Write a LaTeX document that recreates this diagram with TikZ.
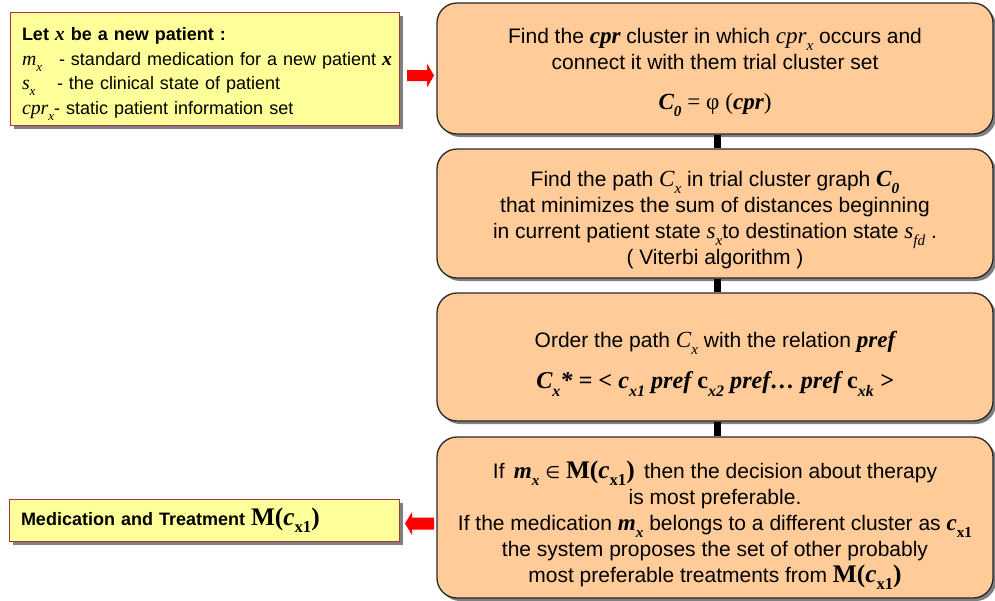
\documentclass[tikz,border=0pt]{standalone}
\usepackage{fontspec}
\setmainfont{Liberation Sans}
\newfontfamily\tms[Scale=1.1]{Liberation Serif}
\newfontfamily\dvs{DejaVu Sans}
\usetikzlibrary{shadows}

\definecolor{peach}{RGB}{255,204,153}
\definecolor{lemon}{RGB}{255,255,153}
\definecolor{boxline}{RGB}{40,40,40}
\definecolor{yline}{RGB}{170,50,70}
\definecolor{shadowgray}{RGB}{128,128,128}
\definecolor{arrowred}{RGB}{255,0,0}

% Times-style variables
\newcommand\ti[1]{{\tms\itshape #1}}
\newcommand\tbi[1]{{\tms\bfseries\itshape #1}}
\newcommand\tb[1]{{\tms\bfseries #1}}
\newcommand\sbx[1]{\raisebox{-0.32em}{\scalebox{0.66}{#1}}}
\newcommand\Mcx{{\fontsize{23}{24}\selectfont\tb{M(}\tbi{c}\sbx{\tb{x1}}\tb{)}}}

\tikzset{
  obox/.style={draw=boxline, line width=1.3pt, fill=peach, rounded corners=20pt,
    minimum width=556pt, inner sep=0pt,
    drop shadow={shadow xshift=3pt, shadow yshift=-3pt, fill=shadowgray, opacity=1}},
  otext/.style={align=center, inner sep=0pt, font=\fontsize{21}{26}\selectfont},
  ybox/.style={draw=yline, line width=1pt, fill=lemon, inner xsep=12pt, inner ysep=0pt,
    font=\fontsize{18}{24.5}\selectfont,
    drop shadow={shadow xshift=4pt, shadow yshift=-4pt, fill=shadowgray, opacity=1}},
  ytext/.style={inner sep=0pt, align=left, font=\fontsize{18}{24.5}\selectfont},
  redarrow/.style={fill=arrowred, draw=none},
  link/.style={line width=7pt, draw=black}
}

\begin{document}
\begin{tikzpicture}[x=1pt,y=-1pt]
\useasboundingbox (0,0) rectangle (995,600);

% input description
\node[ybox, minimum width=389pt, minimum height=113pt] (given) at (204.5,68.5) {};
\node[ytext, text width=365pt] (givenText) at ([yshift=-5.5pt]given.center) {%
  \textbf{Let \tbi{x} be a new patient :}\\
  \mbox{\makebox[37pt][l]{\ti{m}\sbx{\ti{x}}}- standard medication for a new patient \tbi{x}}\\
  \makebox[35pt][l]{\ti{s}\sbx{\ti{x}}}- the clinical state of patient\\
  \ti{cpr}\sbx{\ti{x}}- static patient information set};

% result
\node[ybox, minimum width=390pt, minimum height=42pt, text width=366pt, align=left]
  (result) at (204,520) {\textbf{Medication and Treatment} \Mcx};

% process steps: boxes
\node[obox, minimum height=131pt] (s1) at (715,68.5) {};
\node[obox, minimum height=129pt] (s2) at (715,213.5) {};
\node[obox, minimum height=128pt] (s3) at (715,357) {};
\node[obox, minimum height=161pt] (s4) at (715,517.5) {};

% process steps: texts
\node[otext] (t1) at ([yshift=-4pt]s1.center) {%
  Find the \tbi{cpr} cluster in which \ti{cpr}\sbx{\ti{x}} occurs and\\
  connect it with them trial cluster set\\[14pt]
  \tbi{C}\sbx{\tbi{0}} {\tms = φ (}\tbi{cpr}{\tms )}};

\node[otext] (t2) at ([yshift=-7pt]s2.center) {%
  Find the path \ti{C}\sbx{\ti{x}} in trial cluster graph \tbi{C}\sbx{\tbi{0}}\\
  that minimizes the sum of distances beginning\\
  in current patient state \ti{s}\sbx{\ti{x}}to destination state \ti{s}\sbx{\ti{fd}} .\\
  ( Viterbi algorithm )};

\node[otext] (t3) at ([yshift=-7pt]s3.center) {%
  Order the path \ti{C}\sbx{\ti{x}} with the relation \tbi{pref}\\[15pt]
  {\tms\fontsize{22}{26}\selectfont\bfseries\itshape C\sbx{x}* = < c\sbx{x1} pref
  {\upshape c}\sbx{x2} pref… pref {\upshape c}\sbx{xk} >}};

\node[otext] (t4) at ([yshift=-8pt]s4.center) {%
  If\, \tbi{m}\sbx{\tbi{x}} {\dvs\fontsize{17}{20}\selectfont ∈} \Mcx\, then the decision about therapy\\
  is most preferable.\\
  If the medication \tbi{m}\sbx{\tbi{x}} belongs to a different cluster as \tbi{c}\sbx{\tb{x1}}\\
  the system proposes the set of other probably\\
  most preferable treatments from \Mcx};

% links between steps
\draw[link] ([xshift=2.5pt]s1.south) -- ([xshift=2.5pt]s2.north);
\draw[link] ([xshift=2.5pt]s2.south) -- ([xshift=2.5pt]s3.north);
\draw[link] ([xshift=2.5pt]s3.south) -- ([xshift=2.5pt]s4.north);

% block arrows
\coordinate (toS1) at (407,75.5);
\fill[redarrow] (toS1) ++(0,-5.5) -- ++(20,0) -- ++(0,-6.5) -- ++(7,12)
  -- ++(-7,12) -- ++(0,-6.5) -- ++(-20,0) -- cycle;
\coordinate (toResult) at (434,523.5);
\fill[redarrow] (toResult) ++(0,-6) -- ++(-22,0) -- ++(0,-5.5) -- ++(-7,11.5)
  -- ++(7,11.5) -- ++(0,-5.5) -- ++(22,0) -- cycle;
\end{tikzpicture}
\end{document}
